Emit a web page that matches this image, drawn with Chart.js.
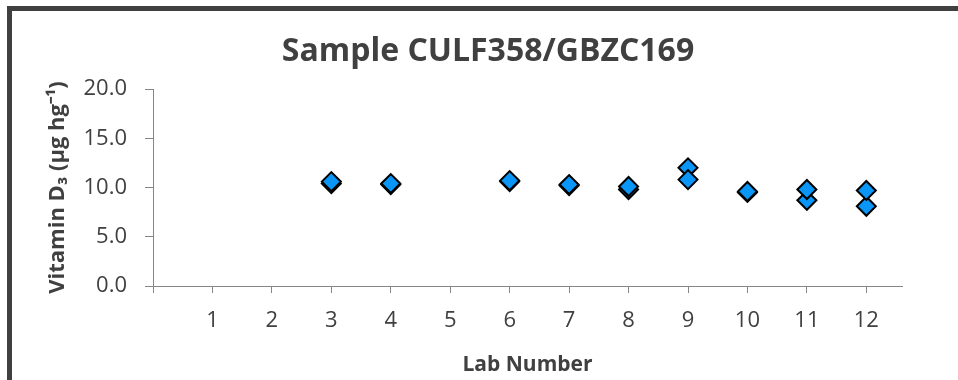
<!DOCTYPE html>
<html>
<head>
<meta charset="utf-8">
<title>Sample CULF358/GBZC169</title>
<script src="https://cdn.jsdelivr.net/npm/chart.js@4.4.1/dist/chart.umd.min.js"></script>
<style>
    body { margin: 0; background: #fff; }
    .wrap { position: relative; width: 958px; height: 380px; overflow: hidden; }
    #vitChart { position: absolute; left: 0; top: 0; }
    .frame {
        position: absolute; left: 7px; top: 6px; width: 1000px; height: 400px;
        border-top: 5px solid #404040; border-left: 5px solid #404040;
        pointer-events: none;
    }
</style>
</head>
<body>
<div class="wrap">
    <canvas id="vitChart" width="958" height="380"></canvas>
    <div class="frame"></div>
</div>

<script>

// lab numbers with results, two replicates per lab
let labs = [3, 4, 6, 7, 8, 9, 10, 11, 12];
let rep1 = [10.6, 10.4, 10.7, 10.3, 10.1, 10.8, 9.6, 9.8, 9.7];
let rep2 = [10.4, 10.3, 10.6, 10.2, 9.8, 12.0, 9.5, 8.7, 8.1];

let xTicks = [0, 1, 2, 3, 4, 5, 6, 7, 8, 9, 10, 11, 12];
let yTicks = [0, 5, 10, 15, 20];

let textColor = "#404040";
let axisColor = "#868686";
let markColor = "#0a96f6";

function toPoints(values){
    return labs.map(function(lab, i){ return { x: lab, y: values[i] }; });
}

let ctx = document.getElementById("vitChart").getContext("2d");

new Chart(ctx, {
    type: "scatter",
    data: {
        datasets: [
            {
                label: "Replicate 1",
                data: toPoints(rep1),
                pointStyle: "rectRot",
                pointRadius: 9.5,
                pointHoverRadius: 9.5,
                backgroundColor: markColor,
                borderColor: "#000",
                borderWidth: 2
            },
            {
                label: "Replicate 2",
                data: toPoints(rep2),
                pointStyle: "rectRot",
                pointRadius: 9.5,
                pointHoverRadius: 9.5,
                backgroundColor: markColor,
                borderColor: "#000",
                borderWidth: 2
            }
        ]
    },
    options: {
        responsive: false,
        animation: false,
        layout: {
            padding: { left: 45, right: 27, top: 0, bottom: 2 }
        },
        plugins: {
            legend: { display: false },
            tooltip: { enabled: false },
            title: {
                display: true,
                text: "Sample CULF358/GBZC169",
                color: textColor,
                font: { family: "Open Sans", size: 32, weight: "bold", lineHeight: 1.2 },
                padding: { top: 33, bottom: 17.6 }
            }
        },
        scales: {
            x: {
                type: "linear",
                min: 0,
                max: 12.6,
                afterBuildTicks: function(scale){
                    scale.ticks = xTicks.map(function(v){ return { value: v }; });
                },
                afterFit: function(scale){ scale.height = 92; },
                grid: { drawOnChartArea: false, drawTicks: true, tickLength: 7, color: axisColor },
                border: { color: axisColor, width: 1 },
                ticks: {
                    padding: 15,
                    color: textColor,
                    font: { family: "Open Sans", size: 22 },
                    callback: function(v){ return v === 0 ? "" : String(v); }
                },
                title: {
                    display: true,
                    text: "Lab Number",
                    color: textColor,
                    padding: 0,
                    font: { family: "Open Sans", size: 21, weight: "bold" }
                }
            },
            y: {
                min: 0,
                max: 20,
                afterBuildTicks: function(scale){
                    scale.ticks = yTicks.map(function(v){ return { value: v }; });
                },
                afterFit: function(scale){ scale.width = 108; },
                grid: { drawOnChartArea: false, drawTicks: true, tickLength: 8, color: axisColor },
                border: { color: axisColor, width: 1 },
                ticks: {
                    padding: 18,
                    color: textColor,
                    font: { family: "Open Sans", size: 22 },
                    callback: function(v){ return Number(v).toFixed(1); }
                },
                title: {
                    display: true,
                    text: "Vitamin D\u2083 (\u00b5g hg\u207b\u00b9)",
                    color: textColor,
                    padding: 0,
                    font: { family: "Open Sans", size: 22, weight: "bold" }
                }
            },
            // empty right side so the title sits centred like the original
            y2: {
                position: "right",
                display: true,
                afterFit: function(scale){ scale.width = 29; },
                grid: { display: false },
                border: { display: false },
                ticks: { display: false }
            }
        }
    }
});

</script>
</body>
</html>
